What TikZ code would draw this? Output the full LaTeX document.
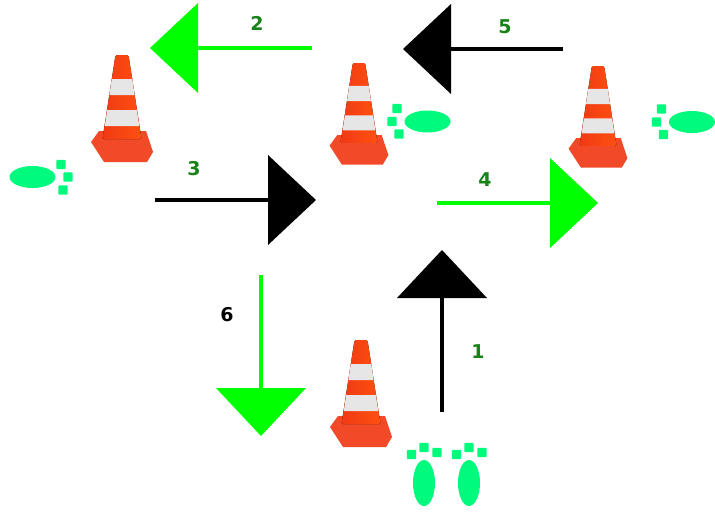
\documentclass[tikz,border=0pt]{standalone}
\usepackage{fontspec}
\newfontfamily\labelfont{DejaVu Sans}
\usetikzlibrary{arrows.meta}

\definecolor{brightgreen}{RGB}{0,255,0}
\definecolor{labelgreen}{RGB}{25,130,25}
\definecolor{conered}{RGB}{255,80,16}
\definecolor{conedark}{RGB}{240,58,20}
\definecolor{conebase}{RGB}{242,74,40}
\definecolor{stripe}{RGB}{230,230,230}
\definecolor{footgreen}{RGB}{0,250,125}

\tikzset{
  bigarrow/.style={line width=4.5pt,
    -{Triangle[length=48pt,width=90pt,line width=0pt]}},
  steplabel/.style={font=\labelfont\bfseries\fontsize{19}{19}\selectfont,
    text=labelgreen, inner sep=0pt},
  % traffic cone, local origin at the top of the cone, y pointing down
  cone/.pic={
    \fill[conebase] (-23,76) -- (24,76) -- (31,97) -- (25,107)
      -- (-18,107) -- (-31,87) -- cycle;
    \fill[left color=conedark, right color=conered, rounded corners=1.5pt]
      (-6.5,0) -- (6.5,0) -- (19.5,84) -- (-19.5,84) -- cycle;
    \fill[stripe] (-10.2,24) -- (10.2,24) -- (12.6,40) -- (-12.6,40) -- cycle;
    \fill[stripe] (-14.8,55) -- (14.8,55) -- (17.2,71) -- (-17.2,71) -- cycle;
  },
  % footprint: sole centred at the origin, toes towards +x
  footprint/.pic={
    \fill[footgreen] (0,0) ellipse [x radius=23, y radius=11];
    \fill[footgreen, rounded corners=1pt]
      (28.5,-12.5) +(-4.7,-4.7) rectangle +(4.7,4.7)
      (35.5,0)     +(-4.7,-4.7) rectangle +(4.7,4.7)
      (30.5,13)    +(-4.7,-4.7) rectangle +(4.7,4.7);
  }
}

\begin{document}
\begin{tikzpicture}[x=1pt, y=-1pt]
  \fill[white] (0,0) rectangle (715,512);
  \useasboundingbox (0,0) rectangle (715,512);

  % cones
  \pic at (122,55) {cone};
  \pic[scale=0.95] at (359,63) {cone};
  \pic[scale=0.95] at (598,66) {cone};
  \pic at (361,340) {cone};

  % footprints
  \pic at (32.5,177) {footprint};
  \pic[rotate=180] at (427.5,121.5) {footprint};
  \pic[rotate=180] at (692,122) {footprint};
  \pic[rotate=90] at (424,483) {footprint};
  \pic[rotate=90] at (469,483) {footprint};

  % arrow end points
  \coordinate (s1) at (442,412);  \coordinate (e1) at (442,250);
  \coordinate (s2) at (312,48);   \coordinate (e2) at (150,48);
  \coordinate (s3) at (155,200);  \coordinate (e3) at (316,200);
  \coordinate (s4) at (437,203);  \coordinate (e4) at (598,203);
  \coordinate (s5) at (563,49);   \coordinate (e5) at (403,49);
  \coordinate (s6) at (261,275);  \coordinate (e6) at (261,436);

  \draw[bigarrow, black] (s1) -- (e1);
  \draw[bigarrow, brightgreen] (s2) -- (e2);
  \draw[bigarrow, black] (s3) -- (e3);
  \draw[bigarrow, brightgreen] (s4) -- (e4);
  \draw[bigarrow, black] (s5) -- (e5);
  \draw[bigarrow, brightgreen] (s6) -- (e6);

  % step numbers
  \node[steplabel] (l1) at (478,352) {1};
  \node[steplabel] (l2) at (257,23) {2};
  \node[steplabel] (l3) at (194,169) {3};
  \node[steplabel] (l4) at (485,180) {4};
  \node[steplabel] (l5) at (505,27) {5};
  \node[steplabel, text=black] (l6) at (227,315) {6};
\end{tikzpicture}
\end{document}
